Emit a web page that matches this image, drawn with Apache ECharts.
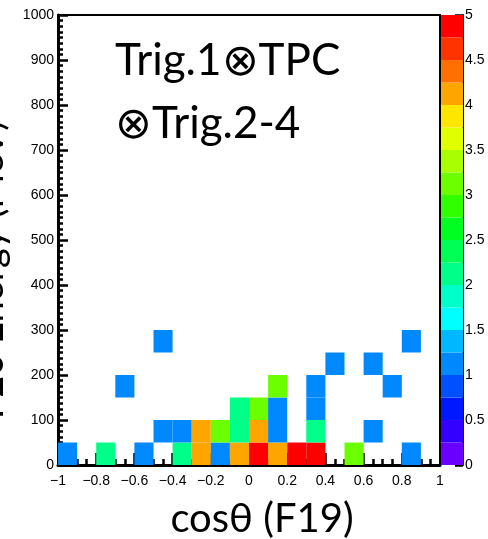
<!DOCTYPE html>
<html>
<head>
    <meta charset="utf-8" />
    <title>cos theta vs energy</title>
    <style>
        html, body { margin: 0; padding: 0; background: #fff; }
    </style>
</head>
<body>
    <div id="main" style="width:488px;height:539px;"></div>
    <script src="https://cdn.jsdelivr.net/npm/echarts@6/dist/echarts.min.js"></script>
    <script type="text/javascript">
        // bin widths of the 2D histogram
        var xBin = 0.1;
        var yBin = 50;

        // filled cells: lower edge in x, lower edge in y, counts
        var cellX = [-1, -0.8, -0.6, -0.4, -0.3, -0.2, -0.1, 0, 0.1, 0.2, 0.3, 0.5, 0.8,
                     -0.5, -0.4, -0.3, -0.2, -0.1, 0, 0.1, 0.3, 0.6,
                     -0.1, 0, 0.1, 0.3,
                     -0.7, 0.1, 0.3, 0.7,
                     0.4, 0.6,
                     -0.5, 0.8];
        var cellY = [0, 0, 0, 0, 0, 0, 0, 0, 0, 0, 0, 0, 0,
                     50, 50, 50, 50, 50, 50, 50, 50, 50,
                     100, 100, 100, 100,
                     150, 150, 150, 150,
                     200, 200,
                     250, 250];
        var cellCount = [1, 2, 1, 2, 4, 1, 4, 5, 4, 5, 5, 3, 1,
                         1, 1, 4, 3, 2, 4, 1, 2, 1,
                         2, 3, 1, 1,
                         1, 3, 1, 1,
                         1, 1,
                         1, 1];

        // palette levels (0 -> 5, step 0.25), bottom to top
        var levelStep = 0.25;
        var palette = ['#6a00ff', '#3300ff', '#0018ff', '#0050ff', '#0088ff',
                       '#00b8ff', '#00ffff', '#00ffc8', '#00ff88', '#00ff55',
                       '#00ff20', '#30ff00', '#6cff00', '#a8ff00', '#e0ff00',
                       '#ffe600', '#ffa500', '#ff7000', '#ff3300', '#ff0000'];

        function colorOf(v) {
            var k = Math.floor(v / levelStep + 1e-9);
            if (k > palette.length - 1) k = palette.length - 1;
            return palette[k];
        }

        var cells = cellX.map(function (x, i) { return [x, cellY[i], cellCount[i]]; });
        var bar = palette.map(function (c, k) { return [0, k * levelStep, k]; });

        var tickFont = { fontFamily: 'Liberation Sans', fontSize: 14, color: '#000' };

        var chart = echarts.init(document.getElementById('main'), null, { renderer: 'canvas' });

        var option = {
            animation: false,
            backgroundColor: '#fff',
            grid: [
                { left: 58, right: 48, top: 15, bottom: 74, show: true, borderColor: '#000', borderWidth: 2 },
                { left: 441, width: 22, top: 15, bottom: 74 }
            ],
            xAxis: [
                {
                    type: 'value', gridIndex: 0, min: -1, max: 1, interval: 0.2,
                    axisLine: { onZero: false, lineStyle: { color: '#000', width: 3 } },
                    axisTick: { inside: true, length: 12, lineStyle: { color: '#000', width: 2.5 } },
                    minorTick: { show: true, splitNumber: 4, length: 6, lineStyle: { color: '#000', width: 2.5 } },
                    splitLine: { show: false },
                    axisLabel: Object.assign({
                        margin: 9,
                        formatter: function (v) { return String(Math.round(v * 10) / 10).replace('-', '\u2212'); }
                    }, tickFont)
                },
                {
                    type: 'value', gridIndex: 1, min: 0, max: 1, show: false
                }
            ],
            yAxis: [
                {
                    type: 'value', gridIndex: 0, min: 0, max: 1000, interval: 100,
                    axisLine: { show: true, onZero: false, lineStyle: { color: '#000', width: 3 } },
                    axisTick: { show: true, inside: true, length: 10, lineStyle: { color: '#000', width: 2.5 } },
                    minorTick: { show: true, splitNumber: 8, length: 5, lineStyle: { color: '#000', width: 2.5 } },
                    splitLine: { show: false },
                    axisLabel: Object.assign({ margin: 4, formatter: function (v) { return String(v); } }, tickFont)
                },
                {
                    type: 'value', gridIndex: 1, min: 0, max: 5, interval: 0.5, position: 'right',
                    axisLine: { show: true, onZero: false, lineStyle: { color: '#000', width: 2 } },
                    axisTick: { show: true, inside: true, length: 8, lineStyle: { color: '#000', width: 2.5 } },
                    splitLine: { show: false },
                    axisLabel: Object.assign({ margin: 2 }, tickFont)
                }
            ],
            series: [
                {
                    type: 'custom',
                    xAxisIndex: 0, yAxisIndex: 0,
                    data: cells,
                    renderItem: function (params, api) {
                        var x0 = api.value(0), y0 = api.value(1);
                        var p0 = api.coord([x0, y0]);
                        var p1 = api.coord([x0 + xBin, y0 + yBin]);
                        return {
                            type: 'rect',
                            shape: { x: p0[0], y: p1[1], width: p1[0] - p0[0], height: p0[1] - p1[1] },
                            style: { fill: colorOf(api.value(2)) }
                        };
                    },
                    z: 1
                },
                {
                    type: 'custom',
                    xAxisIndex: 1, yAxisIndex: 1,
                    data: bar,
                    renderItem: function (params, api) {
                        var lo = api.value(1);
                        var p0 = api.coord([0, lo]);
                        var p1 = api.coord([1, lo + levelStep]);
                        return {
                            type: 'rect',
                            shape: { x: p0[0], y: p1[1], width: p1[0] - p0[0], height: p0[1] - p1[1] },
                            style: { fill: palette[api.value(2)] }
                        };
                    },
                    z: 1
                }
            ],
            graphic: [
                {
                    type: 'text', left: 115, top: 39, z: 10,
                    style: { text: 'Trig.1\u2297TPC', font: '44px Lato', fill: '#000' }
                },
                {
                    type: 'text', left: 115, top: 102, z: 10,
                    style: { text: '\u2297Trig.2-4', font: '44px Lato', fill: '#000' }
                },
                {
                    type: 'text', x: 262, y: 539, z: 10,
                    style: { text: 'cos\u03b8 (F19)', font: '40px Lato', fill: '#000', textAlign: 'center', textVerticalAlign: 'bottom' }
                },
                {
                    type: 'text', x: 10, y: 270, rotation: Math.PI / 2, z: 10,
                    style: { text: 'F20 Energy (MeV)', font: '38px Lato', fill: '#000', textAlign: 'center', textVerticalAlign: 'bottom' }
                }
            ]
        };

        chart.setOption(option);
    </script>
</body>
</html>
